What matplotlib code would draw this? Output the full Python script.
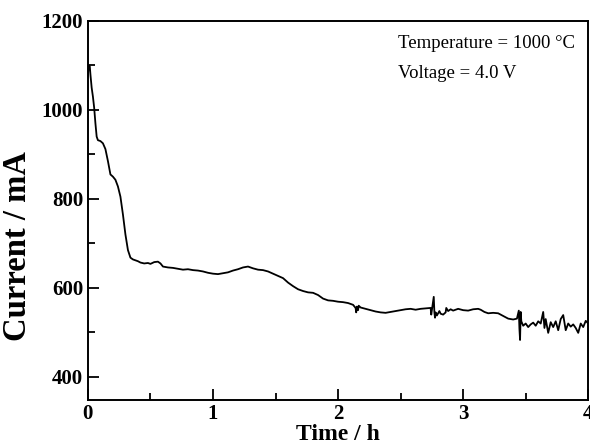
import numpy as np
import matplotlib
matplotlib.use("Agg")
import matplotlib.pyplot as plt
from matplotlib.ticker import MultipleLocator

plt.rcParams['font.family'] = ['Liberation Serif', 'DejaVu Serif']

# current vs time
time_h = [0.000, 0.005, 0.015, 0.020, 0.030, 0.040, 0.050, 0.060, 0.070, 0.080,
          0.100, 0.120, 0.140, 0.160, 0.180, 0.200, 0.220, 0.240, 0.260, 0.280,
          0.300, 0.320, 0.340, 0.360, 0.380, 0.400, 0.420, 0.450, 0.480, 0.500,
          0.530, 0.560, 0.580, 0.600, 0.640, 0.680, 0.720, 0.760, 0.800, 0.840,
          0.880, 0.920, 0.960, 1.000, 1.040, 1.080, 1.120, 1.160, 1.200, 1.240,
          1.280, 1.320, 1.360, 1.400, 1.440, 1.480, 1.520, 1.560, 1.600, 1.640,
          1.680, 1.720, 1.760, 1.800, 1.840, 1.880, 1.920, 1.960, 2.000, 2.040,
          2.080, 2.120, 2.140, 2.145, 2.150, 2.160, 2.165, 2.180, 2.220, 2.260,
          2.300, 2.340, 2.380, 2.420, 2.460, 2.500, 2.540, 2.580, 2.620, 2.660,
          2.700, 2.740, 2.745, 2.750, 2.765, 2.770, 2.775, 2.780, 2.790, 2.810,
          2.820, 2.840, 2.860, 2.865, 2.880, 2.900, 2.920, 2.960, 3.000, 3.040,
          3.080, 3.120, 3.140, 3.170, 3.200, 3.240, 3.280, 3.320, 3.360, 3.400,
          3.430, 3.445, 3.450, 3.455, 3.460, 3.465, 3.480, 3.500, 3.520, 3.540,
          3.560, 3.580, 3.600, 3.620, 3.640, 3.650, 3.660, 3.680, 3.700, 3.720,
          3.740, 3.760, 3.780, 3.800, 3.820, 3.840, 3.860, 3.880, 3.900, 3.920,
          3.940, 3.960, 3.980, 4.000]
current_mA = [1075, 1100, 1098, 1080, 1050, 1030, 1005, 970, 940, 932,
              930, 925, 912, 885, 855, 850, 843, 828, 805, 765,
              720, 685, 668, 664, 662, 660, 657, 655, 656, 654,
              658, 659, 655, 648, 646, 645, 643, 641, 642, 640,
              639, 637, 634, 632, 631, 633, 635, 639, 642, 646,
              648, 644, 641, 640, 637, 632, 627, 622, 612, 604,
              597, 593, 590, 589, 584, 576, 572, 571, 569, 568,
              566, 562, 555, 545, 558, 550, 560, 556, 553, 550,
              547, 545, 544, 546, 548, 550, 552, 553, 551, 553,
              554, 555, 540, 550, 580, 545, 533, 545, 538, 548,
              542, 540, 545, 555, 548, 552, 549, 553, 550, 549,
              552, 553, 551, 546, 543, 544, 543, 537, 531, 529,
              531, 549, 508, 483, 546, 525, 515, 520, 512, 518,
              522, 515, 525, 520, 546, 510, 530, 499, 523, 512,
              525, 505, 530, 539, 505, 520, 513, 518, 510, 499,
              520, 512, 526, 520]

fig = plt.figure(figsize=(5.9, 4.45), dpi=100)
ax = fig.add_axes([0.149, 0.101, 0.848, 0.852])
ax.plot(time_h, current_mA, color='black', lw=1.3)

ax.set_xlim(0, 4)
ax.set_ylim(348, 1200)
ax.xaxis.set_major_locator(MultipleLocator(1))
ax.xaxis.set_minor_locator(MultipleLocator(0.5))
ax.yaxis.set_major_locator(MultipleLocator(200))
ax.yaxis.set_minor_locator(MultipleLocator(100))
ax.tick_params(which='both', direction='in', width=1.3, labelsize=15)
ax.tick_params(which='major', length=8)
ax.tick_params(which='minor', length=5)
ax.tick_params(axis='x', pad=3)
for lab in ax.get_xticklabels() + ax.get_yticklabels():
    lab.set_fontweight('bold')
for s in ax.spines.values():
    s.set_linewidth(1.4)

ax.set_xlabel('Time / h', fontsize=17, fontweight='bold')
ax.xaxis.set_label_coords(0.5, -0.064)
ax.xaxis.label.set_va('top')
ax.set_ylabel('Current / mA', fontsize=23.5, fontweight='bold')
ax.yaxis.set_label_coords(-0.11, 0.405)

ax.text(0.62, 0.929, 'Temperature = 1000 °C', transform=ax.transAxes, fontsize=13.5)
ax.text(0.62, 0.85, 'Voltage = 4.0 V', transform=ax.transAxes, fontsize=13.5)

fig.savefig('out.png', dpi=100)
